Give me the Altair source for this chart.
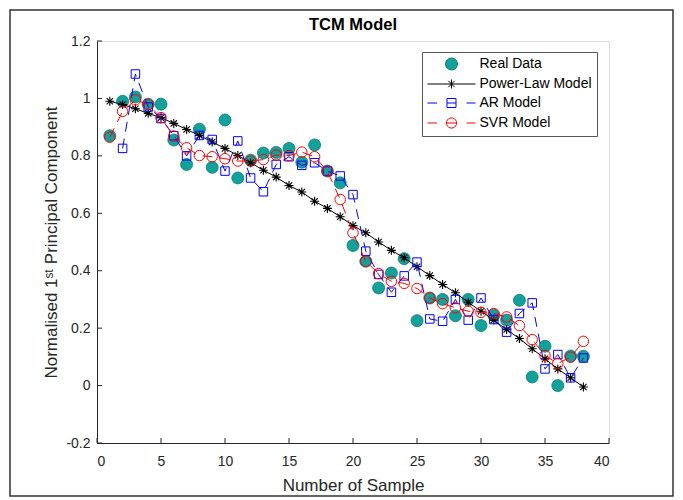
import math
import altair as alt
import pandas as pd

# ---------------- data ----------------
samples = list(range(1, 39))

real_data = [0.87, 0.99, 1.005, 0.98, 0.98, 0.855, 0.77, 0.893, 0.76, 0.925,
             0.723, 0.785, 0.81, 0.812, 0.826, 0.778, 0.838, 0.747, 0.706, 0.488,
             0.433, 0.34, 0.392, 0.442, 0.226, 0.305, 0.30, 0.243, 0.30, 0.209,
             0.245, 0.228, 0.297, 0.03, 0.137, 0.0, 0.103, 0.102]

power_law = [0.99, 0.979, 0.964, 0.948, 0.933, 0.913, 0.892, 0.871, 0.848, 0.826,
             0.801, 0.776, 0.75, 0.726, 0.697, 0.674, 0.642, 0.617, 0.588, 0.557,
             0.532, 0.5, 0.471, 0.445, 0.414, 0.383, 0.352, 0.323, 0.29, 0.259,
             0.228, 0.195, 0.164, 0.128, 0.093, 0.058, 0.027, -0.005]

ar_samples = list(range(2, 39))
ar_model = [0.826, 1.085, 0.97, 0.93, 0.87, 0.80, 0.871, 0.857, 0.747, 0.852,
            0.723, 0.675, 0.77, 0.797, 0.767, 0.776, 0.747, 0.73, 0.665, 0.468,
            0.387, 0.325, 0.382, 0.43, 0.232, 0.224, 0.30, 0.228, 0.305, 0.23,
            0.186, 0.251, 0.288, 0.058, 0.108, 0.027, 0.096]

svr_model = [0.865, 0.955, 0.995, 0.979, 0.933, 0.869, 0.828, 0.801, 0.797, 0.79,
             0.782, 0.782, 0.787, 0.803, 0.801, 0.813, 0.797, 0.747, 0.648, 0.532,
             0.433, 0.39, 0.363, 0.356, 0.338, 0.305, 0.285, 0.271, 0.259, 0.255,
             0.251, 0.239, 0.209, 0.16, 0.105, 0.077, 0.099, 0.154]

series_names = ["Real Data", "Power-Law Model", "AR Model", "SVR Model"]
x_ticks = [0, 5, 10, 15, 20, 25, 30, 35, 40]
y_ticks = [-0.2, 0, 0.2, 0.4, 0.6, 0.8, 1.0, 1.2]

# ---------------- styles ----------------
FONT = "Liberation Sans"
TEAL_FILL = "#12a29b"
TEAL_EDGE = "#0d7a75"
BLUE = "#0000ff"
RED = "#ff0000"
AXIS_COLOR = "#262626"
W, H = 512, 402

def poly_circle(r, n=20):
    pts = []
    for i in range(n):
        a = 2 * math.pi * i / n
        pts.append(f"{r*math.cos(a):.3f},{r*math.sin(a):.3f}")
    return "M" + "L".join(pts) + "Z"

STAR = "M-1,0L1,0M0,-1L0,1M-0.7,-0.7L0.7,0.7M-0.7,0.7L0.7,-0.7"
LEG_DASH = "M-4,0L-2.4,0M-0.75,0L0.75,0M2.5,0L4,0"
LEG_REAL = "M-4,0M4,0" + poly_circle(1.0, 24)
LEG_POWER = "M-4,0L4,0M0,-0.75L0,0.75M-0.53,-0.53L0.53,0.53M-0.53,0.53L0.53,-0.53"
LEG_AR = LEG_DASH + "M-0.75,-0.75L0.75,-0.75L0.75,0.75L-0.75,0.75Z"
LEG_SVR = LEG_DASH + poly_circle(0.85)

xs = alt.Scale(domain=[0, 40], nice=False, zero=False)
ys = alt.Scale(domain=[-0.2, 1.2], nice=False, zero=False)

x_axis = alt.Axis(values=x_ticks, ticks=False, tickSize=0, grid=False,
                  labelPadding=11, labelFontSize=14, labelFont=FONT, labelColor=AXIS_COLOR,
                  domainColor=AXIS_COLOR, domainWidth=1,
                  title="Number of Sample", titleFont=FONT, titleFontSize=17,
                  titleFontWeight="normal", titleColor=AXIS_COLOR,
                  titleX=W / 2, titleY=42, titleAlign="center", titleBaseline="middle")
y_axis = alt.Axis(values=y_ticks, ticks=False, tickSize=0, grid=False,
                  labelPadding=7, labelFontSize=14, labelFont=FONT, labelColor=AXIS_COLOR,
                  labelExpr="toString(round(datum.value*10)/10)",
                  domainColor=AXIS_COLOR, domainWidth=1,
                  title="Normalised 1\u02e2\u1d57 Principal Component", titleFont=FONT,
                  titleFontSize=17, titleFontWeight="normal", titleColor=AXIS_COLOR,
                  titleX=-46, titleY=H / 2, titleAngle=270, titleAlign="center",
                  titleBaseline="middle")

def X(field="x"):
    return alt.X(f"{field}:Q", scale=xs, axis=x_axis)

def Y(field="y"):
    return alt.Y(f"{field}:Q", scale=ys, axis=y_axis)

real_df = pd.DataFrame({"x": samples, "y": real_data})
power_df = pd.DataFrame({"x": samples, "y": power_law})
ar_df = pd.DataFrame({"x": ar_samples, "y": ar_model})
svr_df = pd.DataFrame({"x": samples, "y": svr_model})
legend_df = pd.DataFrame({"series": series_names,
                          "x": [samples[0], samples[0], ar_samples[0], samples[0]],
                          "y": [real_data[0], power_law[0], ar_model[0], svr_model[0]]})
xt_df = pd.DataFrame({"t": x_ticks})
yt_df = pd.DataFrame({"t": y_ticks})

frame = alt.Chart(pd.DataFrame({"a": [0]})).mark_rect(
    fillOpacity=0, stroke="#333333", strokeWidth=1.5
).encode(x=alt.value(-87), x2=alt.value(576), y=alt.value(-31), y2=alt.value(455))

xticks = alt.Chart(xt_df).mark_rule(color=AXIS_COLOR, strokeWidth=1).encode(
    x=alt.X("t:Q", scale=xs, axis=x_axis), y=alt.value(H), y2=alt.value(H - 5))
yticks = alt.Chart(yt_df).mark_rule(color=AXIS_COLOR, strokeWidth=1).encode(
    y=alt.Y("t:Q", scale=ys, axis=y_axis), x=alt.value(0), x2=alt.value(5))

real_pts = alt.Chart(real_df).mark_point(
    shape="circle", filled=True, size=144, fill=TEAL_FILL, stroke=TEAL_EDGE,
    strokeWidth=0.8, opacity=1
).encode(x=X(), y=Y())

power_line = alt.Chart(power_df).mark_line(color="black", strokeWidth=1).encode(x=X(), y=Y())
power_pts = alt.Chart(power_df).mark_point(
    shape=STAR, size=81, stroke="black", strokeWidth=1.1, fillOpacity=0, opacity=1
).encode(x=X(), y=Y())

ar_line = alt.Chart(ar_df).mark_line(color=BLUE, strokeWidth=1, strokeDash=[10, 7]).encode(x=X(), y=Y())
ar_pts = alt.Chart(ar_df).mark_point(
    shape="square", size=72, stroke=BLUE, strokeWidth=1, fillOpacity=0, opacity=1
).encode(x=X(), y=Y())

svr_line = alt.Chart(svr_df).mark_line(color=RED, strokeWidth=1, strokeDash=[10, 7]).encode(x=X(), y=Y())
svr_pts = alt.Chart(svr_df).mark_point(
    shape="circle", size=110, stroke=RED, strokeWidth=1, fillOpacity=0, opacity=1
).encode(x=X(), y=Y())

leg = alt.Legend(title=None, orient="none", legendX=325, legendY=11,
                 symbolSize=144, symbolOffset=17.5, labelOffset=21,
                 labelFont=FONT, labelFontSize=14, labelColor="black",
                 padding=5, rowPadding=5, strokeColor="#555555", fillColor="white",
                 symbolStrokeWidth=1, symbolOpacity=1)

legend_layer = alt.Chart(legend_df).mark_point(filled=True, opacity=0, strokeWidth=1).encode(
    x=X(), y=Y(),
    shape=alt.Shape("series:N", scale=alt.Scale(domain=series_names,
                    range=[LEG_REAL, LEG_POWER, LEG_AR, LEG_SVR]), legend=leg),
    fill=alt.Fill("series:N", scale=alt.Scale(domain=series_names,
                  range=[TEAL_FILL, "transparent", "transparent", "transparent"]), legend=leg),
    stroke=alt.Stroke("series:N", scale=alt.Scale(domain=series_names,
                      range=[TEAL_EDGE, "black", BLUE, RED]), legend=leg),
)

chart = alt.layer(
    frame, xticks, yticks, real_pts, power_line, power_pts, ar_line, ar_pts,
    svr_line, svr_pts, legend_layer
).properties(
    width=W, height=H,
    autosize=alt.AutoSizeParams(type="none"),
    padding={"left": 89, "top": 33, "right": 66, "bottom": 55},
    title=alt.Title("TCM Model", font=FONT, fontSize=16.5, fontWeight="bold",
                    color="black", anchor="middle", offset=-17, dy=20,
                    baseline="alphabetic"),
).configure_view(stroke=None).configure(background="white")

chart.save("out.html", embed_options={"renderer": "svg", "actions": False})
